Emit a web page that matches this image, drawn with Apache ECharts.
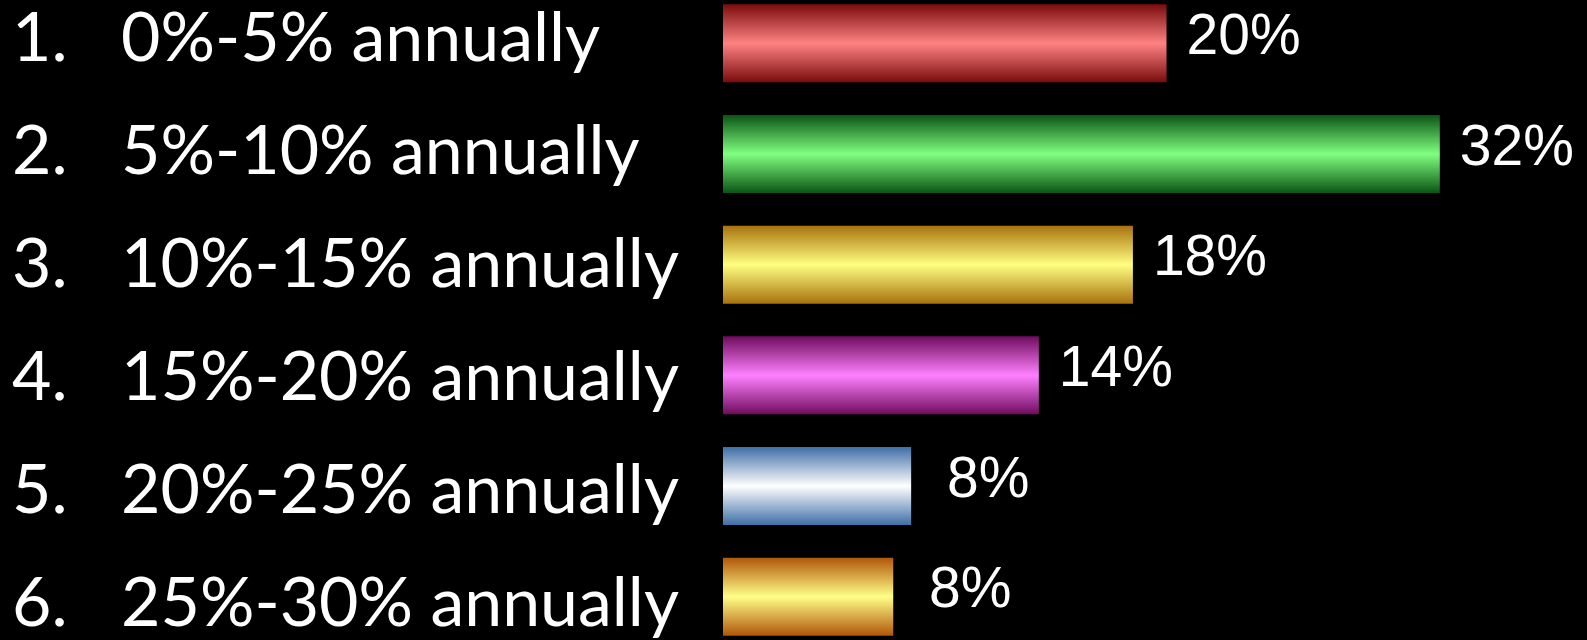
<!DOCTYPE html>
<html>
<head>
<meta charset="utf-8">
<script src="https://cdn.jsdelivr.net/npm/echarts@6/dist/echarts.min.js"></script>
<style>
html,body{margin:0;padding:0;background:#000;}
#chart{width:1587px;height:640px;}
</style>
</head>
<body>
<div id="chart"></div>
<script>
const numbers = ['1.', '2.', '3.', '4.', '5.', '6.'];
const categories = ['0%-5% annually', '5%-10% annually', '10%-15% annually', '15%-20% annually', '20%-25% annually', '25%-30% annually'];
const values = [19.8, 32.0, 18.3, 14.1, 8.4, 7.6];
const edgeColors = ['#7a0c0c', '#0b5414', '#a8720e', '#6e0c5e', '#3f6ea6', '#b0560a'];
const midColors  = ['#ff8282', '#80ff80', '#ffff80', '#ff80ff', '#ffffff', '#ffff88'];

function grad(i) {
  return new echarts.graphic.LinearGradient(0, 0, 0, 1, [
    {offset: 0, color: edgeColors[i]},
    {offset: 0.5, color: midColors[i]},
    {offset: 1, color: edgeColors[i]}
  ]);
}

const pctFont = "'Liberation Sans', Arial, Helvetica, sans-serif";
const catFont = "Lato, sans-serif";

const chart = echarts.init(document.getElementById('chart'));
chart.setOption({
  backgroundColor: '#000000',
  animation: false,
  grid: [
    {left: 723, top: -12, width: 896, height: 664, outerBoundsMode: 'none', containLabel: false},
    {left: 12, top: -18, width: 680, height: 679, outerBoundsMode: 'none', containLabel: false}
  ],
  xAxis: [
    {type: 'value', gridIndex: 0, min: 0, max: 40, show: false},
    {type: 'value', gridIndex: 1, min: 0, max: 1, show: false}
  ],
  yAxis: [
    {type: 'category', gridIndex: 0, data: categories, inverse: true, show: false},
    {type: 'category', gridIndex: 1, data: categories, inverse: true,
     axisLine: {show: false}, axisTick: {show: false}, splitLine: {show: false},
     axisLabel: {
       inside: true, margin: 0,
       fontFamily: catFont, fontSize: 68, color: '#ffffff',
       formatter: function (v, i) { return '{n|' + numbers[i] + '}{t|' + v + '}'; },
       rich: {
         n: {width: 109, fontFamily: catFont, fontSize: 68, color: '#ffffff'},
         t: {fontFamily: catFont, fontSize: 68, color: '#ffffff'}
       }
     }}
  ],
  series: [{
    type: 'bar',
    xAxisIndex: 0, yAxisIndex: 0,
    barWidth: 78,
    data: values.map((v, i) => ({value: v, itemStyle: {color: grad(i)}})),
    label: {
      show: true,
      position: 'right',
      distance: 18,
      offset: [0, -5],
      fontFamily: pctFont, fontSize: 57, color: '#ffffff',
      formatter: function (p) { return '{v|' + Math.round(p.value) + '%}'; },
      rich: {
        v: {width: 118, align: 'center', fontFamily: pctFont, fontSize: 57, color: '#ffffff'}
      }
    }
  }]
});
</script>
</body>
</html>
